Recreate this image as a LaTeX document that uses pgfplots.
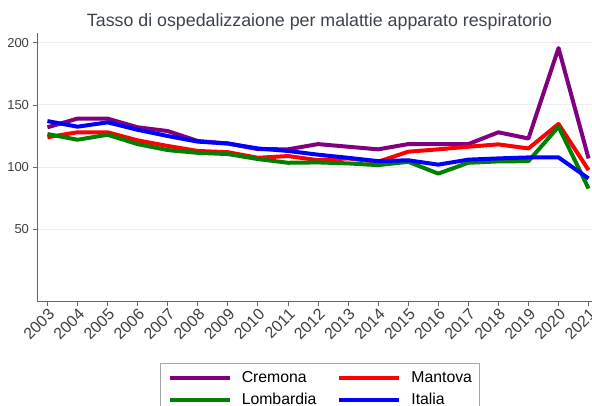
\documentclass[border=0pt]{standalone}
\usepackage{pgfplots}
\pgfplotsset{compat=1.18}
\usepackage{pgfplotstable}
\usepackage{fontspec}
\setmainfont{Liberation Sans}
\definecolor{cpurple}{RGB}{128,0,128}
\definecolor{cred}{RGB}{255,0,0}
\definecolor{cgreen}{RGB}{0,128,0}
\definecolor{cblue}{RGB}{0,0,255}
\definecolor{titlecol}{RGB}{60,66,78}
\definecolor{tickcol}{RGB}{64,64,64}
\definecolor{gridcol}{RGB}{236,236,236}

\pgfplotstableread{
year Cremona Mantova Lombardia Italia
2003 132   124   126.6 137
2004 139   128   122   132.5
2005 139   128   126   136
2006 132   121.5 118.5 130
2007 129   117   113.7 125
2008 121   113   111.5 120.5
2009 119   112   110.5 119
2010 114.5 107.5 106.5 115
2011 114.3 108.9 103.5 113
2012 118.5 105.6 103.8 110
2013 116.4 107   103   107.5
2014 114.3 104.3 101.6 104.8
2015 118.5 112.4 104.3 105.5
2016 118.5 114.3 94.8  102
2017 118.5 116.4 103.5 106
2018 128   118.3 104.6 107
2019 123   115   104.8 107.8
2020 195.7 134.7 132.5 107.8
2021 107   97.6  82.8  90.9
}\datatable

\begin{document}
\begin{tikzpicture}[x=1pt,y=1pt]
\useasboundingbox (0,0) rectangle (592,405);
\clip (0,0) rectangle (592,405);
\fill[white] (0,0) rectangle (592,405);
\node[font=\fontsize{17.8}{20}\selectfont, text=titlecol, anchor=base, inner sep=0pt] at (319.5,378.3) {Tasso di ospedalizzaione per malattie apparato respiratorio};
\begin{axis}[
  scale only axis,
  width=561pt, height=268pt,
  at={(37.5pt,104pt)}, anchor=south west,
  xmin=2002.67, xmax=2021.33,
  ymin=-7.6, ymax=207.8,
  axis lines=left,
  axis line style={-, draw=tickcol!80, line width=0.8pt},
  xtick={2003,...,2021},
  ytick={50,100,150,200},
  xticklabel style={rotate=45, anchor=north east, font=\fontsize{16}{18}\selectfont, text=tickcol, inner sep=1pt},
  yticklabel style={font=\fontsize{13}{15}\selectfont, text=tickcol},
  /pgf/number format/assume math mode=true,
  /pgf/number format/1000 sep={},
  tick style={draw=tickcol!80, line width=0.8pt},
  tick align=outside,
  major tick length=5pt,
  ymajorgrids,
  grid style={draw=gridcol, line width=1pt},
  legend columns=2,
  legend cell align=left,
  legend style={at={(0.219,-0.230)}, anchor=north west, draw=gray!70, line width=0.8pt,
    font=\fontsize{15.8}{18}\selectfont, text=black, inner xsep=7pt, inner ysep=8pt,
    nodes={inner sep=0pt, text height=11.5pt, text depth=3pt},
    /tikz/every odd column/.append style={column sep=10pt},
    /tikz/every even column/.append style={column sep=21pt},
    row sep=7pt},
  legend image code/.code={\draw[#1, line width=4pt] (0pt,0pt) -- (60pt,0pt);},
  every axis plot/.append style={line width=4pt, line join=round, no markers},
]
\addplot[cpurple] table[x=year, y=Cremona] {\datatable};
\addlegendentry{Cremona}
\addplot[cred] table[x=year, y=Mantova] {\datatable};
\addlegendentry{Mantova}
\addplot[cgreen] table[x=year, y=Lombardia] {\datatable};
\addlegendentry{Lombardia}
\addplot[cblue] table[x=year, y=Italia] {\datatable};
\addlegendentry{Italia}
\end{axis}
\end{tikzpicture}
\end{document}
